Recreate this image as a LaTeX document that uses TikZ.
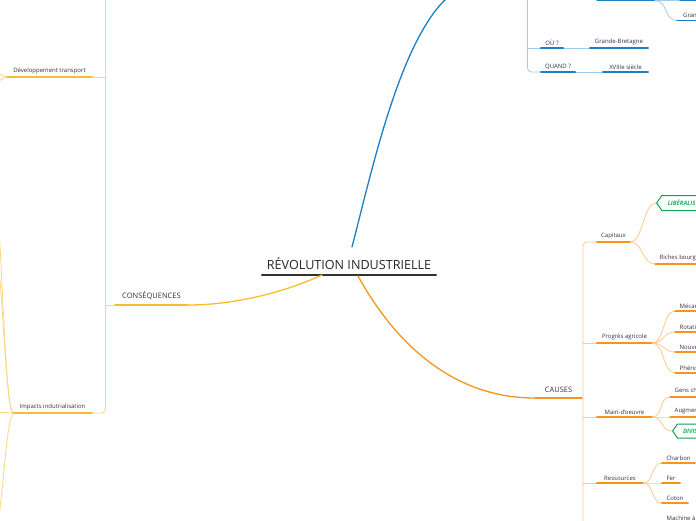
\documentclass[tikz,border=0pt]{standalone}
\usepackage{fontspec}
\setmainfont{Open Sans}
\usetikzlibrary{calc,shapes.symbols}
\definecolor{tgray}{HTML}{333333}
\definecolor{odark}{HTML}{F7941D}
\definecolor{olight}{HTML}{FDC98F}
\definecolor{ydark}{HTML}{F9BE2A}
\definecolor{ylight}{HTML}{FBD77F}
\definecolor{bdark}{HTML}{1B7FC4}
\definecolor{blight}{HTML}{A0CDEC}
\definecolor{gdark}{HTML}{11A150}
\definecolor{gtext}{HTML}{1DB060}
\begin{document}
\begin{tikzpicture}[x=1pt,y=-1pt,line cap=round,line join=round,
  small/.style={font=\fontsize{6}{7}\selectfont},
  ctopic/.style={small, text=tgray, anchor=south, inner xsep=0pt, inner ysep=2.5pt, minimum width=#1},
  ltopic/.style={small, text=tgray, anchor=south west, inner xsep=4.5pt, inner ysep=2.5pt},
  bigtopic/.style={font=\fontsize{7.5}{9}\selectfont, text=tgray, anchor=south, inner xsep=0pt, inner ysep=5pt, minimum width=#1},
  ulO/.style={draw=odark, line width=1.3pt},
  ulY/.style={draw=ydark, line width=1.3pt},
  ulB/.style={draw=bdark, line width=1.3pt},
  lnO/.style={draw=olight, line width=0.8pt},
  lnY/.style={draw=ylight, line width=0.8pt},
  lnB/.style={draw=blight, line width=0.8pt},
  tag/.style={shape=signal, signal to=west, signal pointer angle=110, draw=gdark, line width=1pt,
    anchor=west, text=gtext, font=\fontsize{6}{7}\selectfont\bfseries\itshape, minimum height=#1, inner xsep=6pt, inner ysep=0pt}
]
\useasboundingbox (0,0) rectangle (696,520);
\clip (0,0) rectangle (696,520);

% ---------- central topic
\node[font=\fontsize{12.6}{15}\selectfont, text=black!85, anchor=south, minimum width=174, inner xsep=0pt, inner ysep=5.5pt] (title) at (349,275) {RÉVOLUTION INDUSTRIELLE};
\draw[draw=black!80, line width=1.5pt] (title.south west) -- (title.south east);
\coordinate (tb) at (352,247);
\coordinate (bt) at (448,-3);

% ---------- main branches
\node[bigtopic=47] (causes) at (558.5,398) {CAUSES};
\node[bigtopic=73] (cons) at (151.5,305) {CONSÉQUENCES};
\draw[draw=bdark, line width=1.3pt] (tb) .. controls (372,170) and (400,40) .. (bt);
\draw[draw=odark, line width=1.3pt] ($(title.south)+(9,1)$) .. controls (385,325) and (440,398) .. (causes.south west);
\draw[draw=ydark, line width=1.3pt] ($(title.south)+(-27,0)$) .. controls (285,292) and (235,305) .. (cons.south east);
\draw[ulO] (causes.south west) -- (causes.south east);
\draw[ulY] (cons.south west) -- (cons.south east);

% ---------- CAUSES children
\node[ctopic=33] (cap) at (613.5,242) {Capitaux};
\node[ctopic=55] (prog) at (624.5,343) {Progrès agricole};
\node[ctopic=55] (main) at (624.5,417) {Main-d'oeuvre};
\node[ctopic=46] (res) at (620,483) {Ressources};
\draw[lnO, rounded corners=4] (583,530) -- (583,242) -- (cap.south west);
\foreach \n in {prog,main,res} \draw[lnO] (583,0 |- \n.south west) -- (\n.south west);
\foreach \n in {cap,prog,main,res} \draw[ulO] (\n.south west) -- (\n.south east);

% Capitaux
\node[tag=15] (lib) at (656,203) {LIBÉRALISME};
\node[ltopic] (rich) at (655,264) {Riches bourgeois};
\draw[ulO] (rich.south west) -- ($(rich.south east)+(30,0)$);
\foreach \n in {lib.west,rich.south west} \draw[lnO] (cap.south east) .. controls +(13,0) and +(-13,0) .. (\n);

% Progres agricole
\node[ltopic] (meca) at (675,311) {Mécanisation};
\node[ltopic] (rot) at (675,332) {Rotation des cultures};
\node[ltopic] (nouv) at (675,352) {Nouvelles cultures};
\node[ltopic] (phen) at (675,373) {Phénomène des enclosures};
\foreach \n in {meca,rot,nouv,phen}{
  \draw[lnO] (prog.south east) .. controls +(12,0) and +(-12,0) .. (\n.south west);
  \draw[ulO] (\n.south west) -- (\n.south east);}

% Main-d'oeuvre
\node[ltopic] (gens) at (670,397) {Gens chassés des campagnes};
\node[ltopic] (aug) at (670,417) {Augmentation de la population};
\node[tag=14, inner xsep=5.5pt] (div) at (672,431) {DIVISION DU TRAVAIL};
\foreach \n in {gens.south west,aug.south west,div.west} \draw[lnO] (main.south east) .. controls +(11,0) and +(-11,0) .. (\n);
\foreach \n in {gens,aug} \draw[ulO] (\n.south west) -- (\n.south east);

% Ressources
\node[ctopic=33] (charb) at (678.5,463) {Charbon};
\node[ctopic=18] (fer) at (671,483) {Fer};
\node[ctopic=26] (coton) at (675,503) {Coton};
\node[ltopic] (mach) at (662,525) {Machine à vapeur};
\foreach \n in {charb,fer,coton}{
  \draw[lnO] (res.south east) .. controls +(11,0) and +(-11,0) .. (\n.south west);
  \draw[ulO] (\n.south west) -- (\n.south east);}
\draw[ulO] (mach.south west) -- (mach.south east);

% ---------- blue branch (top right)
\node[ctopic=22] (ou) at (552,48) {OÙ ?};
\node[ctopic=58] (gb) at (619,48) {Grande-Bretagne};
\node[ctopic=34] (quand) at (558,72) {QUAND ?};
\node[ctopic=45] (xviii) at (625.5,72) {XVIIIe siècle};
\draw[lnB, rounded corners=4] (527.5,-5) -- (527.5,72) -- (quand.south west);
\draw[lnB] (527.5,48) -- (ou.south west);
\draw[lnB] (ou.south east) -- (gb.south west);
\draw[lnB] (quand.south east) -- (xviii.south west);
\foreach \n in {ou,gb,quand,xviii} \draw[ulB] (\n.south west) -- (\n.south east);
\coordinate (q1) at (597,0.6);
\coordinate (q2) at (655,0.6);
\coordinate (q3) at (680,0.6);
\coordinate (q4) at (700,0.6);
\node[ltopic, inner xsep=6pt] (gran) at (677,20.5) {Grandes inventions};
\draw[ulB] (q1) -- (q2);
\draw[lnB] (q2) -- (q3);
\draw[ulB] (q3) -- (q4);
\draw[lnB] (q2) .. controls +(13,0) and +(-13,0) .. (gran.south west);
\draw[ulB] (gran.south west) -- (gran.south east);

% ---------- yellow branch (left)
\node[ctopic=85] (dev) at (49.5,77) {Développement transport};
\node[ctopic=79] (imp) at (52.5,413) {Impacts indutrialisation};
\draw[lnY, rounded corners=4] (105.5,-5) -- (105.5,413) -- (imp.south east);
\draw[lnY] (105.5,77) -- (dev.south east);
\draw[lnY] (105.5,305) -- (cons.south west);
\foreach \n in {dev,imp} \draw[ulY] (\n.south west) -- (\n.south east);
\coordinate (d1) at (-25,55);
\coordinate (d2) at (-25,100);
\foreach \c in {d1,d2} \draw[lnY] (dev.south west) .. controls +(-8,0) and +(10,0) .. (\c);
\coordinate (i1) at (-15,60);
\coordinate (i2) at (-15,150);
\coordinate (i3) at (-25,411);
\coordinate (i4) at (-15,600);
\draw[lnY] (imp.south west) .. controls (3,400) and (3,200) .. (i1);
\draw[lnY] (imp.south west) .. controls (4,400) and (4,260) .. (i2);
\draw[lnY] (imp.south west) .. controls (4,430) and (4,520) .. (i4);
\draw[lnY] (imp.south west) -- (i3);
\end{tikzpicture}
\end{document}
